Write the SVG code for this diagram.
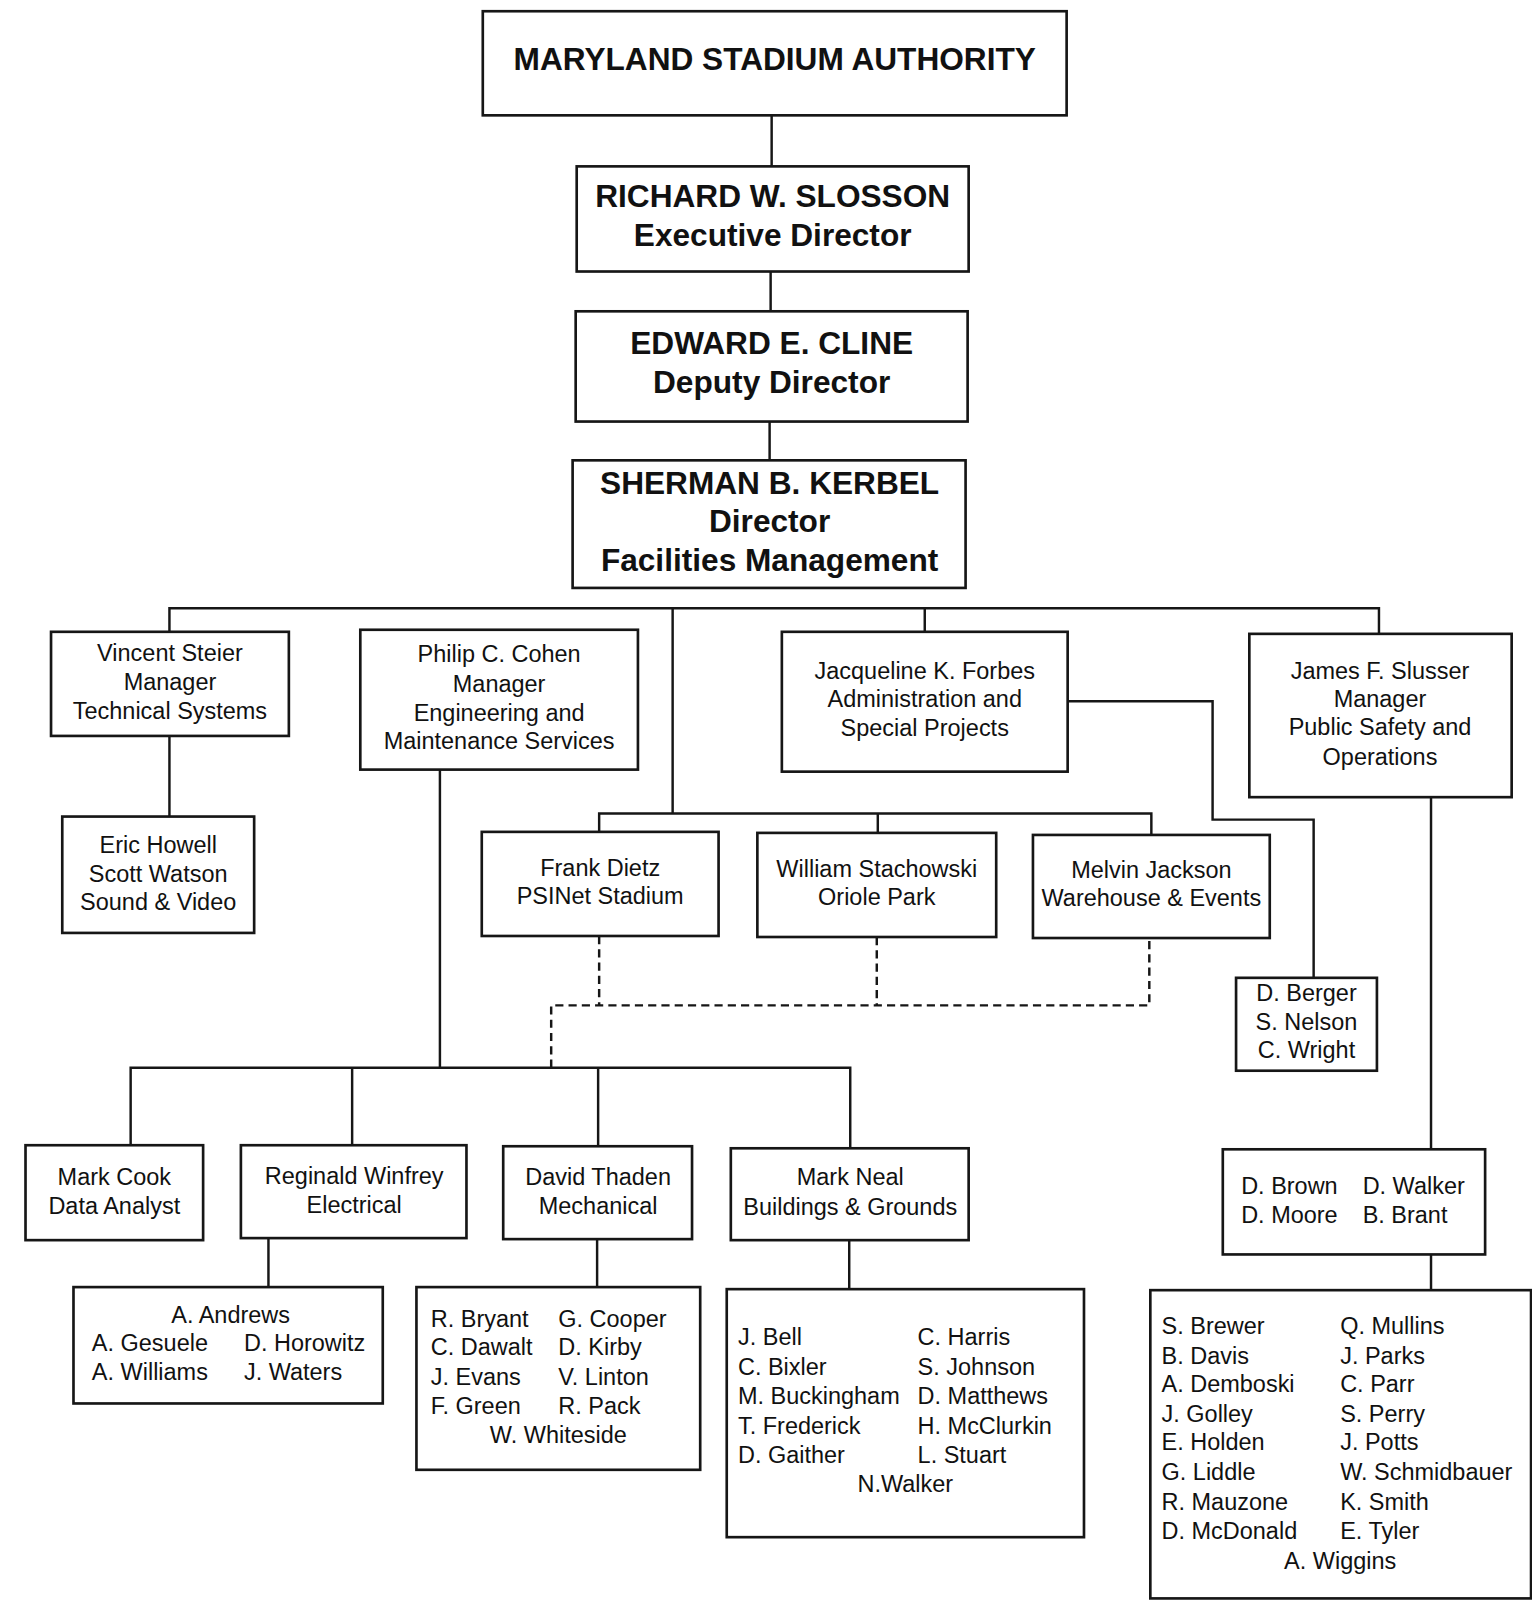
<svg xmlns="http://www.w3.org/2000/svg" width="1532" height="1600" viewBox="0 0 1532 1600">
<style>
.box{fill:#fff;stroke:#161616;stroke-width:2.6}
.ln{fill:none;stroke:#161616;stroke-width:2.4}
.dash{stroke-dasharray:8 5}
.b{font-family:"Liberation Sans",Arial,sans-serif;font-weight:bold;font-size:31px;fill:#111;text-anchor:middle}
.t{font-family:"Liberation Sans",Arial,sans-serif;font-size:23px;fill:#111}
.c{text-anchor:middle}
</style>
<rect width="1532" height="1600" fill="#fff"/>
<g transform="scale(1.0207)">
<g id="connectors">
<path class="ln" d="M756 113V163M755 266V305M754 413V451"/>
<path class="ln" d="M166 619V596H1351V621M659 596V797M906 596V619"/>
<path class="ln" d="M166 721V800"/>
<path class="ln" d="M587 815V797H1128V818M860 797V816"/>
<path class="ln" d="M1046 687H1188V803H1287V958"/>
<path class="ln" d="M1402 781V1126M1402 1229V1264"/>
<path class="ln" d="M431 754V1046"/>
<path class="ln" d="M128 1122V1046H833V1125M345 1046V1122M586 1046V1123"/>
<path class="ln" d="M263 1213V1261M585 1214V1261M832 1215V1263"/>
<path class="ln dash" d="M540 1046V985H1126V919M587 917V985M859 918V985"/>
</g>
<g id="msa"><rect class="box" x="473" y="11" width="572" height="102"/>
<text class="b" x="759" y="69">MARYLAND STADIUM AUTHORITY</text></g>
<g id="slosson"><rect class="box" x="565" y="163" width="384" height="103"/>
<text class="b" x="757" y="203">RICHARD W. SLOSSON</text>
<text class="b" x="757" y="241">Executive Director</text></g>
<g id="cline"><rect class="box" x="564" y="305" width="384" height="108"/>
<text class="b" x="756" y="347">EDWARD E. CLINE</text>
<text class="b" x="756" y="385">Deputy Director</text></g>
<g id="kerbel"><rect class="box" x="561" y="451" width="385" height="125"/>
<text class="b" x="754" y="484">SHERMAN B. KERBEL</text>
<text class="b" x="754" y="521">Director</text>
<text class="b" x="754" y="559">Facilities Management</text></g>
<g id="steier"><rect class="box" x="50" y="619" width="233" height="102"/>
<text class="t c" x="166.5" y="648">Vincent Steier</text>
<text class="t c" x="166.5" y="676">Manager</text>
<text class="t c" x="166.5" y="704">Technical Systems</text></g>
<g id="howell"><rect class="box" x="61" y="800" width="188" height="114"/>
<text class="t c" x="155" y="836">Eric Howell</text>
<text class="t c" x="155" y="864">Scott Watson</text>
<text class="t c" x="155" y="892">Sound &amp; Video</text></g>
<g id="cohen"><rect class="box" x="353" y="617" width="272" height="137"/>
<text class="t c" x="489" y="649">Philip C. Cohen</text>
<text class="t c" x="489" y="678">Manager</text>
<text class="t c" x="489" y="706">Engineering and</text>
<text class="t c" x="489" y="734">Maintenance Services</text></g>
<g id="forbes"><rect class="box" x="766" y="619" width="280" height="137"/>
<text class="t c" x="906" y="665">Jacqueline K. Forbes</text>
<text class="t c" x="906" y="693">Administration and</text>
<text class="t c" x="906" y="721">Special Projects</text></g>
<g id="slusser"><rect class="box" x="1224" y="621" width="257" height="160"/>
<text class="t c" x="1352" y="665">James F. Slusser</text>
<text class="t c" x="1352" y="693">Manager</text>
<text class="t c" x="1352" y="720">Public Safety and</text>
<text class="t c" x="1352" y="749">Operations</text></g>
<g id="dietz"><rect class="box" x="472" y="815" width="232" height="102"/>
<text class="t c" x="588" y="858">Frank Dietz</text>
<text class="t c" x="588" y="886">PSINet Stadium</text></g>
<g id="stachowski"><rect class="box" x="742" y="816" width="234" height="102"/>
<text class="t c" x="859" y="859">William Stachowski</text>
<text class="t c" x="859" y="887">Oriole Park</text></g>
<g id="jackson"><rect class="box" x="1012" y="818" width="232" height="101"/>
<text class="t c" x="1128" y="860">Melvin Jackson</text>
<text class="t c" x="1128" y="888">Warehouse &amp; Events</text></g>
<g id="berger"><rect class="box" x="1211" y="958" width="138" height="91"/>
<text class="t c" x="1280" y="981">D. Berger</text>
<text class="t c" x="1280" y="1009">S. Nelson</text>
<text class="t c" x="1280" y="1037">C. Wright</text></g>
<g id="cook"><rect class="box" x="25" y="1122" width="174" height="93"/>
<text class="t c" x="112" y="1161">Mark Cook</text>
<text class="t c" x="112" y="1189">Data Analyst</text></g>
<g id="winfrey"><rect class="box" x="236" y="1122" width="221" height="91"/>
<text class="t c" x="347" y="1160">Reginald Winfrey</text>
<text class="t c" x="347" y="1188">Electrical</text></g>
<g id="thaden"><rect class="box" x="493" y="1123" width="185" height="91"/>
<text class="t c" x="586" y="1161">David Thaden</text>
<text class="t c" x="586" y="1189">Mechanical</text></g>
<g id="neal"><rect class="box" x="716" y="1125" width="233" height="90"/>
<text class="t c" x="833" y="1161">Mark Neal</text>
<text class="t c" x="833" y="1190">Buildings &amp; Grounds</text></g>
<g id="brown"><rect class="box" x="1198" y="1126" width="257" height="103"/>
<text class="t" x="1216" y="1170">D. Brown</text>
<text class="t" x="1335" y="1170">D. Walker</text>
<text class="t" x="1216" y="1198">D. Moore</text>
<text class="t" x="1335" y="1198">B. Brant</text></g>
<g id="andrews"><rect class="box" x="72" y="1261" width="303" height="114"/>
<text class="t c" x="226" y="1296">A. Andrews</text>
<text class="t" x="90" y="1324">A. Gesuele</text>
<text class="t" x="239" y="1324">D. Horowitz</text>
<text class="t" x="90" y="1352">A. Williams</text>
<text class="t" x="239" y="1352">J. Waters</text></g>
<g id="bryant"><rect class="box" x="408" y="1261" width="278" height="179"/>
<text class="t" x="422" y="1300">R. Bryant</text>
<text class="t" x="547" y="1300">G. Cooper</text>
<text class="t" x="422" y="1328">C. Dawalt</text>
<text class="t" x="547" y="1328">D. Kirby</text>
<text class="t" x="422" y="1357">J. Evans</text>
<text class="t" x="547" y="1357">V. Linton</text>
<text class="t" x="422" y="1385">F. Green</text>
<text class="t" x="547" y="1385">R. Pack</text>
<text class="t c" x="547" y="1414">W. Whiteside</text></g>
<g id="bell"><rect class="box" x="712" y="1263" width="350" height="243"/>
<text class="t" x="723" y="1318">J. Bell</text>
<text class="t" x="899" y="1318">C. Harris</text>
<text class="t" x="723" y="1347">C. Bixler</text>
<text class="t" x="899" y="1347">S. Johnson</text>
<text class="t" x="723" y="1376">M. Buckingham</text>
<text class="t" x="899" y="1376">D. Matthews</text>
<text class="t" x="723" y="1405">T. Frederick</text>
<text class="t" x="899" y="1405">H. McClurkin</text>
<text class="t" x="723" y="1433">D. Gaither</text>
<text class="t" x="899" y="1433">L. Stuart</text>
<text class="t c" x="887" y="1462">N.Walker</text></g>
<g id="brewer"><rect class="box" x="1127" y="1264" width="373" height="302"/>
<text class="t" x="1138" y="1307">S. Brewer</text>
<text class="t" x="1313" y="1307">Q. Mullins</text>
<text class="t" x="1138" y="1336">B. Davis</text>
<text class="t" x="1313" y="1336">J. Parks</text>
<text class="t" x="1138" y="1364">A. Demboski</text>
<text class="t" x="1313" y="1364">C. Parr</text>
<text class="t" x="1138" y="1393">J. Golley</text>
<text class="t" x="1313" y="1393">S. Perry</text>
<text class="t" x="1138" y="1421">E. Holden</text>
<text class="t" x="1313" y="1421">J. Potts</text>
<text class="t" x="1138" y="1450">G. Liddle</text>
<text class="t" x="1313" y="1450">W. Schmidbauer</text>
<text class="t" x="1138" y="1479">R. Mauzone</text>
<text class="t" x="1313" y="1479">K. Smith</text>
<text class="t" x="1138" y="1508">D. McDonald</text>
<text class="t" x="1313" y="1508">E. Tyler</text>
<text class="t c" x="1313" y="1537">A. Wiggins</text></g>
</g>
</svg>
